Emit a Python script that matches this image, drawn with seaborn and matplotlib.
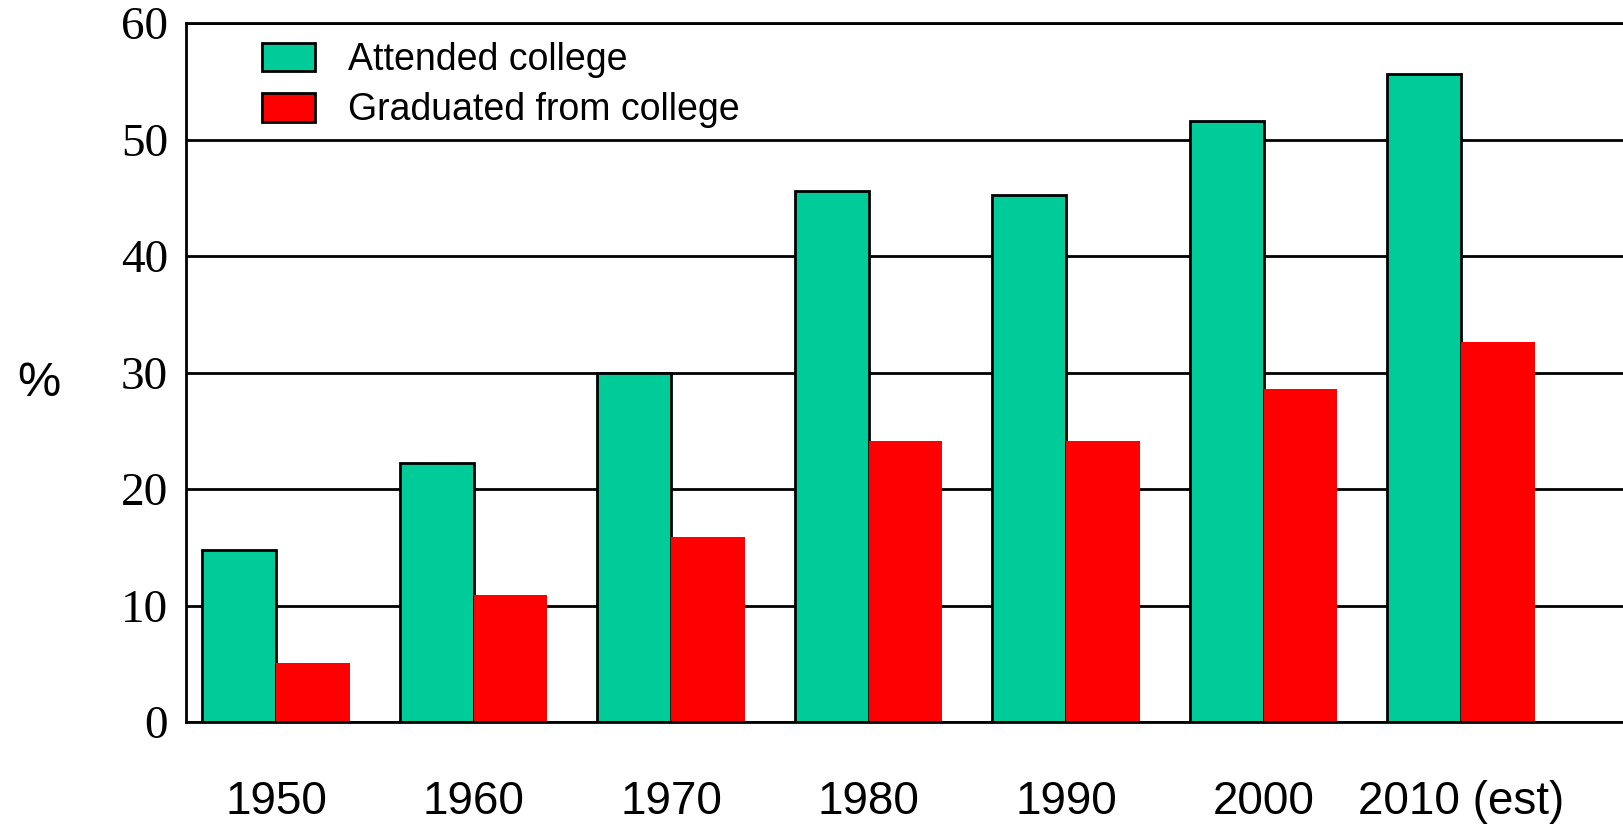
import pandas as pd
import matplotlib
matplotlib.use("Agg")
import matplotlib.pyplot as plt
from matplotlib.patches import Patch
import seaborn as sns

# values
years = ["1950", "1960", "1970", "1980", "1990", "2000", "2010 (est)"]
attended = [14.8, 22.2, 30.0, 45.6, 45.2, 51.6, 55.6]
graduated = [5.1, 10.9, 15.9, 24.1, 24.1, 28.6, 32.6]
series = ["Attended college", "Graduated from college"]
colors = ["#00CC99", "#FF0000"]
yticks = [0, 10, 20, 30, 40, 50, 60]

df = pd.DataFrame({
    "Year": years * 2,
    "Percent": attended + graduated,
    "Series": [series[0]] * len(years) + [series[1]] * len(years),
})

sns.set_theme(style="white")
plt.rcParams["text.color"] = "black"
plt.rcParams["xtick.color"] = "black"
plt.rcParams["ytick.color"] = "black"

fig = plt.figure(figsize=(16.23, 8.27), dpi=100)
ax = fig.add_axes([186 / 1623, 105 / 827, 1 - 186 / 1623, 699 / 827])

sns.barplot(data=df, x="Year", y="Percent", hue="Series", order=years,
            hue_order=series, palette=colors, width=0.745, saturation=1,
            legend=False, ax=ax)

# green bars get a black outline, red bars none
for bar in ax.containers[0]:
    bar.set_edgecolor("black")
    bar.set_linewidth(2)
for bar in ax.containers[1]:
    bar.set_edgecolor("none")

ax.set_xlim(-0.456, 6.82)
ax.set_ylim(0, 60)
ax.set_yticks(yticks)
ax.set_yticklabels([str(t) for t in yticks], family="Liberation Serif", fontsize=34)
ax.set_xticks(range(len(years)))
ax.set_xticklabels(years, family="Liberation Sans", fontsize=33)
ax.tick_params(axis="x", length=0, pad=42)
ax.tick_params(axis="y", length=0, pad=13)
ax.set_xlabel("")
ax.set_ylabel("")

ax.set_axisbelow(True)
ax.yaxis.grid(True, color="black", linewidth=2)
ax.xaxis.grid(False)
ax.spines["right"].set_visible(False)
for side in ["left", "bottom", "top"]:
    ax.spines[side].set_color("black")
    ax.spines[side].set_linewidth(2)

handles = [Patch(facecolor=c, edgecolor="black", linewidth=2) for c in colors]
leg = ax.legend(handles, series, loc="upper left",
                bbox_to_anchor=(262 / 1623, 1 - 42 / 827), bbox_transform=fig.transFigure,
                frameon=False, prop={"family": "Liberation Sans", "size": 27},
                handlelength=1.4, handleheight=0.8, handletextpad=0.9,
                labelspacing=0.38, borderpad=0, borderaxespad=0)

fig.text(39 / 1623, 1 - 383 / 827, "%", ha="center", va="center",
         family="Liberation Sans", fontsize=35)

fig.savefig("out.png", dpi=100)
